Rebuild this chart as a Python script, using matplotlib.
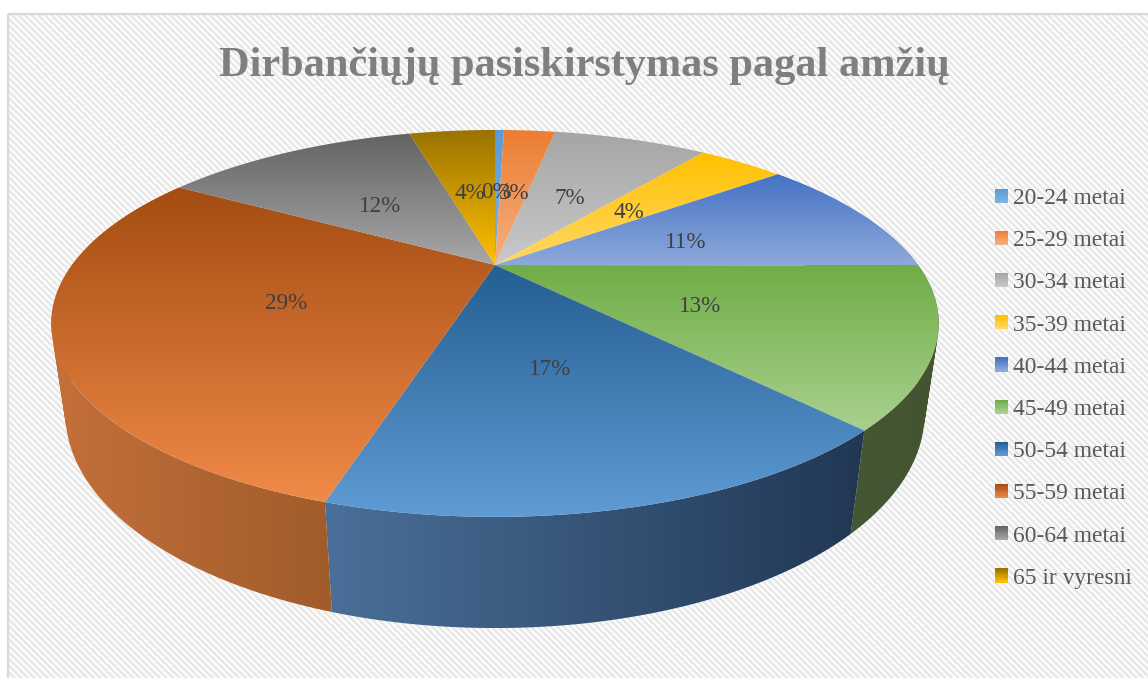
import numpy as np
import matplotlib
matplotlib.use("Agg")
import matplotlib.pyplot as plt
from matplotlib.legend_handler import HandlerBase
from matplotlib.patches import Patch, Rectangle
from matplotlib.path import Path

plt.rcParams['font.family'] = ['Liberation Serif', 'DejaVu Serif']

title = "Dirbančiųjų pasiskirstymas pagal amžių"
categories = ["20-24 metai", "25-29 metai", "30-34 metai", "35-39 metai", "40-44 metai",
              "45-49 metai", "50-54 metai", "55-59 metai", "60-64 metai", "65 ir vyresni"]
values = [0.44, 2.51, 7.49, 4.1, 10.51, 13.05, 16.51, 28.88, 12.3, 4.21]
top_colors = ["#5B9BD5", "#ED7D31", "#A5A5A5", "#FFC000", "#4472C4",
              "#70AD47", "#255E91", "#A44C12", "#636363", "#997300"]
bottom_colors = ["#7FB3E3", "#F4B183", "#C9C9C9", "#FFD966", "#8EAADB",
                 "#A9D18E", "#5F9BD5", "#F08A48", "#A8A8A8", "#FFC000"]
wall_left = ["#5B9BD5", "#ED7D31", "#A5A5A5", "#FFC000", "#4472C4",
             "#465735", "#4A7099", "#C4703A", "#636363", "#997300"]
wall_right = ["#5B9BD5", "#ED7D31", "#A5A5A5", "#FFC000", "#4472C4",
              "#435431", "#213754", "#A05C2A", "#636363", "#997300"]

W, H = 1148, 678
fig = plt.figure(figsize=(W / 100, H / 100), dpi=100, facecolor="white")
ax = fig.add_axes([0, 0, 1, 1])
ax.set_axis_off()

# striped panel
PX0, PY0 = 8, 14
yy, xx = np.mgrid[PY0:H, PX0:W]
stripes = 241 + 13 * np.cos(2 * np.pi * (xx - yy) / 6.6)
ax.imshow(stripes, cmap="gray", vmin=0, vmax=255, extent=[PX0, W, H, PY0],
          interpolation="nearest", aspect="auto", zorder=0)
ax.add_patch(Rectangle((PX0 - 0.5, PY0 - 0.5), W, H, fill=False, ec="#D9D9D9", lw=1.6, zorder=1))

# perspective projection of the pie disk (h=0 top, h=1 bottom)
CX, CY = 495, 265
A, B, K, M, C = 423.0, 175.8, 0.302, 0.03, 88.5


def project(theta, r=1.0, h=0.0):
    X = r * np.sin(theta)
    Y = r * np.cos(theta)
    w = 1 + K * Y + M * h
    return CX + A * X / w, CY + (-B * Y + C * h) / w


def rgb(c):
    return np.array(matplotlib.colors.to_rgb(c))


def gradient_fill(path, c0, c1, vertical=True, zorder=3):
    x0, y0 = path.vertices.min(axis=0)
    x1, y1 = path.vertices.max(axis=0)
    t = np.linspace(0, 1, 256)[:, None] * (rgb(c1) - rgb(c0)) + rgb(c0)
    img = t[:, None, :] if vertical else t[None, :, :]
    im = ax.imshow(img, extent=[x0, x1, y1, y0], aspect="auto", interpolation="bilinear", zorder=zorder)
    im.set_clip_path(path, ax.transData)


def wall_path(th):
    """Union of same-orientation quads swept between the top and bottom rims."""
    tx, ty = project(th)
    bx, by = project(th, h=1.0)
    verts, codes = [], []
    for j in range(len(th) - 1):
        q = np.array([[tx[j], ty[j]], [tx[j + 1], ty[j + 1]], [bx[j + 1], by[j + 1]], [bx[j], by[j]]])
        area = np.sum(q[:, 0] * np.roll(q[:, 1], -1) - np.roll(q[:, 0], -1) * q[:, 1])
        if area < 0:
            q = q[::-1]
        verts.extend(q.tolist() + [q[0].tolist()])
        codes.extend([Path.MOVETO, Path.LINETO, Path.LINETO, Path.LINETO, Path.CLOSEPOLY])
    return Path(np.array(verts), codes)


fractions = np.array(values) / np.sum(values)
edges = np.concatenate([[0], np.cumsum(fractions)]) * 2 * np.pi

# walls
for i in range(len(values)):
    th = np.linspace(edges[i], edges[i + 1], 160)
    if np.cos(th).min() > 0.05:
        continue
    gradient_fill(wall_path(th), wall_left[i], wall_right[i], vertical=False, zorder=2)

# top faces
for i in range(len(values)):
    th = np.linspace(edges[i], edges[i + 1], 200)
    tx, ty = project(th)
    poly = np.column_stack([np.r_[CX, tx, CX], np.r_[CY, ty, CY]])
    gradient_fill(Path(poly, closed=True), top_colors[i], bottom_colors[i], vertical=True, zorder=3)

# percentage labels
for i, v in enumerate(values):
    mid = (edges[i] + edges[i + 1]) / 2
    lx, ly = project(mid, r=0.5)
    ax.annotate(f"{v:.0f}%", (lx, ly), xytext=(-0.5, -3), textcoords="offset points", ha="center", va="center",
                fontsize=16.7, color="#404040", zorder=5)

ax.text(584, 66, title, ha="center", va="center", fontsize=30.5, fontweight="bold", color="#7F7F7F", zorder=5)


class GradientHandler(HandlerBase):
    def create_artists(self, legend, orig, xd, yd, width, height, fontsize, trans):
        c0, c1 = orig.grad
        n = 12
        arts = []
        for k in range(n):
            col = rgb(c0) + (rgb(c1) - rgb(c0)) * k / (n - 1)
            arts.append(Rectangle((-xd, -yd + height * (1 - (k + 1) / n)), width, height / n + 0.05,
                                  fc=col, ec="none", transform=trans))
        return arts


handles = []
for i, cat in enumerate(categories):
    h = Patch(label=cat)
    h.grad = (top_colors[i], bottom_colors[i])
    handles.append(h)

leg = ax.legend(handles=handles, handler_map={Patch: GradientHandler()}, frameon=False,
                loc="upper left", bbox_to_anchor=(995 / W, 1 - 188 / H), borderpad=0, borderaxespad=0,
                fontsize=16.9, labelcolor="#595959", handlelength=0.55, handleheight=0.55,
                handletextpad=0.2, labelspacing=0.903)
leg.set_zorder(6)

ax.set_xlim(0, W)
ax.set_ylim(H, 0)
fig.savefig("out.png", dpi=100, facecolor="white")
